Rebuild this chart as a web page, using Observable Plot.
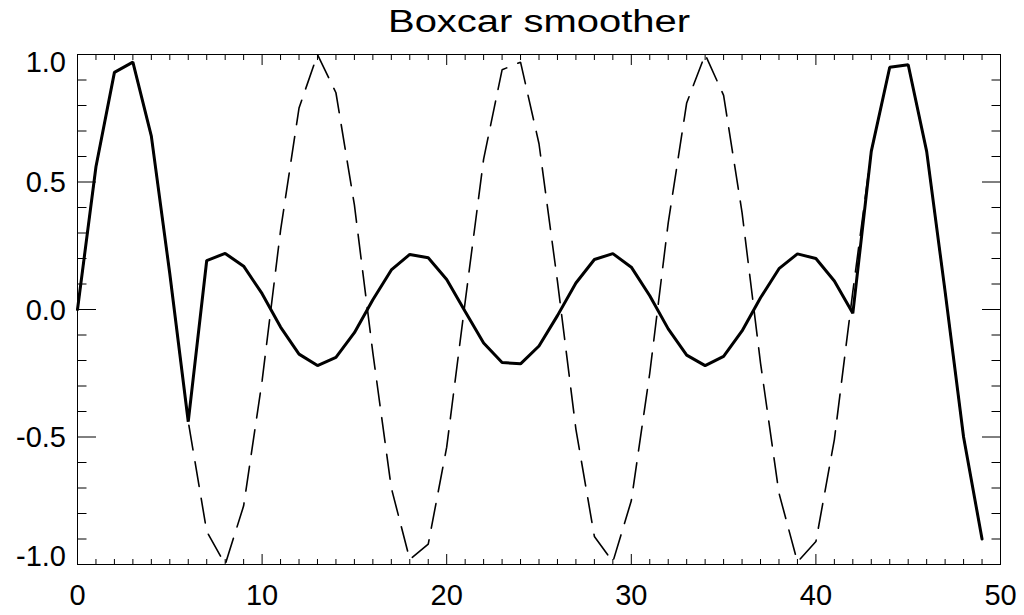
<!DOCTYPE html>
<html>
<head>
<meta charset="utf-8">
<script src="https://cdn.jsdelivr.net/npm/d3@7"></script>
<script src="https://cdn.jsdelivr.net/npm/@observablehq/plot@0.6"></script>
<style>
  html, body { margin: 0; padding: 0; background: #fff; }
  #chart { width: 1024px; height: 615px; }
</style>
</head>
<body>
<div id="chart"></div>
<script>
const titleText = "Boxcar smoother";

const xIndex = [0,1,2,3,4,5,6,7,8,9,10,11,12,13,14,15,16,17,18,19,20,21,22,23,24,
  25,26,27,28,29,30,31,32,33,34,35,36,37,38,39,40,41,42,43,44,45,46,47,48,49];

// raw signal (dashed)
const rawValues = [0.00,0.56,0.93,0.97,0.68,0.14,-0.44,-0.87,-1.00,-0.77,-0.28,0.31,0.79,1.00,0.85,
  0.41,-0.17,-0.70,-0.98,-0.92,-0.54,0.03,0.59,0.94,0.97,0.65,0.11,-0.47,-0.89,-0.99,-0.75,
  -0.25,0.34,0.81,1.00,0.84,0.38,-0.21,-0.72,-0.99,-0.91,-0.51,0.07,0.62,0.95,0.96,0.62,0.07,-0.50,-0.90];

// boxcar-smoothed signal (solid)
const smoothValues = [0.00,0.56,0.93,0.97,0.68,0.14,-0.44,0.192,0.220,0.170,0.062,-0.069,-0.175,-0.220,-0.188,
  -0.091,0.038,0.155,0.216,0.203,0.118,-0.008,-0.131,-0.208,-0.213,-0.143,-0.024,0.104,0.196,0.219,0.166,
  0.054,-0.076,-0.179,-0.220,-0.184,-0.084,0.046,0.160,0.218,0.200,0.112,-0.015,0.62,0.95,0.96,0.62,0.07,-0.50,-0.90];

const xTickLabels = [0, 10, 20, 30, 40, 50];
const yTickLabelsInner = [-0.5, 0.0, 0.5];
const yTickTop = [1.0];
const yTickBottom = [-1.0];
const xMajorTicks = [0, 10, 20, 30, 40, 50];
const xMinorTicks = d3.range(0, 51, 1).filter(v => v % 10 !== 0);
const yMajorTicks = [-1.0, -0.5, 0.0, 0.5, 1.0];
const yMinorTicks = d3.range(-10, 11, 1).filter(v => v % 5 !== 0).map(v => v / 10);

const rawData = xIndex.map((x, i) => ({x, y: rawValues[i]}));
const smoothData = xIndex.map((x, i) => ({x, y: smoothValues[i]}));

const font = "Liberation Sans, Arial, Helvetica, sans-serif";
const fmt = d => d.toFixed(1);
const tickOpts = {text: null, label: null, stroke: "#000"};
const labelOpts = {tickSize: 0, label: null, fontSize: 29, fill: "#000"};

const chart = Plot.plot({
  width: 1024,
  height: 615,
  marginLeft: 77,
  marginRight: 24,
  marginTop: 54,
  marginBottom: 51,
  style: {fontFamily: font, background: "#fff", color: "#000"},
  x: {domain: [0, 50], nice: false, label: null},
  y: {domain: [-1, 1], nice: false, label: null},
  marks: [
    // ticks (inward)
    Plot.axisX(xMajorTicks, {anchor: "bottom", tickSize: -10, ...tickOpts}),
    Plot.axisX(xMinorTicks, {anchor: "bottom", tickSize: -5, ...tickOpts}),
    Plot.axisX(xMajorTicks, {anchor: "top", tickSize: -10, ...tickOpts}),
    Plot.axisX(xMinorTicks, {anchor: "top", tickSize: -5, ...tickOpts}),
    Plot.axisY(yMajorTicks, {anchor: "left", tickSize: -19, ...tickOpts}),
    Plot.axisY(yMinorTicks, {anchor: "left", tickSize: -9.5, ...tickOpts}),
    Plot.axisY(yMajorTicks, {anchor: "right", tickSize: -19, ...tickOpts}),
    Plot.axisY(yMinorTicks, {anchor: "right", tickSize: -9.5, ...tickOpts}),
    // labels
    Plot.axisX(xTickLabels, {anchor: "bottom", tickPadding: 20, tickFormat: d => String(d), ...labelOpts}),
    Plot.axisY(yTickLabelsInner, {anchor: "left", tickPadding: 11.5, tickFormat: fmt, dy: 1, ...labelOpts}),
    Plot.axisY(yTickTop, {anchor: "left", tickPadding: 11.5, tickFormat: fmt, dy: 8, ...labelOpts}),
    Plot.axisY(yTickBottom, {anchor: "left", tickPadding: 11.5, tickFormat: fmt, dy: -8, ...labelOpts}),
    Plot.frame({stroke: "#000", strokeWidth: 1}),
    // data
    Plot.line(rawData, {x: "x", y: "y", stroke: "#000", strokeWidth: 1.6, strokeDasharray: "25,12", strokeLinejoin: "miter"}),
    Plot.line(smoothData, {x: "x", y: "y", stroke: "#000", strokeWidth: 3, strokeLinejoin: "miter"}),
    // title
    Plot.text([titleText], {text: d => d, frameAnchor: "top", lineAnchor: "bottom", dy: -22.5, fontSize: 31, fill: "#000", className: "chart-title"})
  ]
});
// widen the title glyphs to match the reference's stretched lettering
d3.select(chart).selectAll(".chart-title text")
  .attr("textLength", 302)
  .attr("lengthAdjust", "spacingAndGlyphs");
document.getElementById("chart").appendChild(chart);
</script>
</body>
</html>
